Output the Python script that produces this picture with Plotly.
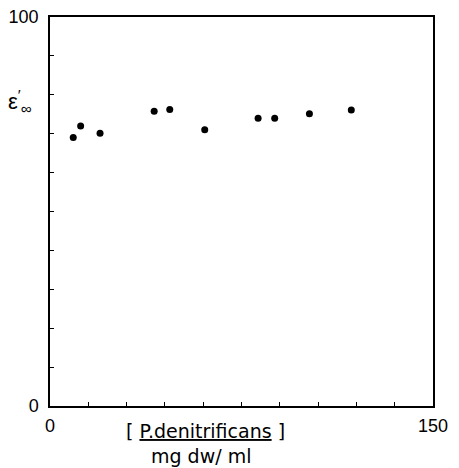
import plotly.graph_objects as go

conc = [9.1, 12.0, 19.6, 40.8, 46.9, 60.6, 81.5, 88.0, 101.6, 118.0]
eps = [69.0, 72.0, 70.1, 75.8, 76.2, 71.0, 74.0, 74.0, 75.1, 76.1]

x_tickvals = [0, 15, 30, 45, 60, 75, 90, 105, 120, 135, 150]
x_ticktext = ["0", "", "", "", "", "", "", "", "", "", "150"]
y_tickvals = [0, 10, 20, 30, 40, 50, 60, 70, 80, 90, 100]
y_ticktext = ["0", "", "", "", "", "", "", "", "", "", "100"]

font = "Liberation Sans, Arial, sans-serif"
title_font = "DejaVu Sans, Verdana, sans-serif"

fig = go.Figure()
fig.add_trace(go.Scatter(
    x=conc, y=eps, mode="markers",
    marker=dict(color="black", size=7),
    showlegend=False, cliponaxis=False,
))

fig.update_layout(
    width=451, height=460,
    margin=dict(l=42, r=26, t=9, b=62),
    paper_bgcolor="white", plot_bgcolor="white",
    font=dict(family=font, size=18, color="black"),
    xaxis=dict(
        range=[0, 150], tickvals=x_tickvals, ticktext=x_ticktext,
        ticks="inside", ticklen=4, tickcolor="black", tickwidth=1,
        showline=True, linecolor="black", linewidth=1.5, mirror=True,
        showgrid=False, zeroline=False, ticklabelstandoff=3,
        automargin=False, ticklabeloverflow="allow",
    ),
    yaxis=dict(
        range=[0, 100], tickvals=y_tickvals, ticktext=y_ticktext,
        ticks="inside", ticklen=4, tickcolor="black", tickwidth=1,
        showline=True, linecolor="black", linewidth=1.5, mirror=True,
        showgrid=False, zeroline=False, ticklabelstandoff=6,
        automargin=False, ticklabeloverflow="allow",
    ),
    annotations=[
        dict(text="ε<sup>′</sup><sub>∞</sub>", xref="paper", yref="paper",
             x=-0.078, y=0.784, xanchor="center", yanchor="middle",
             showarrow=False, font=dict(size=22)),
        dict(text="[ <u>P.denitrificans</u> ]", xref="paper", yref="paper",
             x=0.405, y=-0.063, xanchor="center", yanchor="middle",
             showarrow=False, font=dict(size=19, family=title_font)),
        dict(text="mg dw/ ml", xref="paper", yref="paper",
             x=0.394, y=-0.128, xanchor="center", yanchor="middle",
             showarrow=False, font=dict(size=19, family=title_font)),
    ],
)

fig.write_html("out.html")
